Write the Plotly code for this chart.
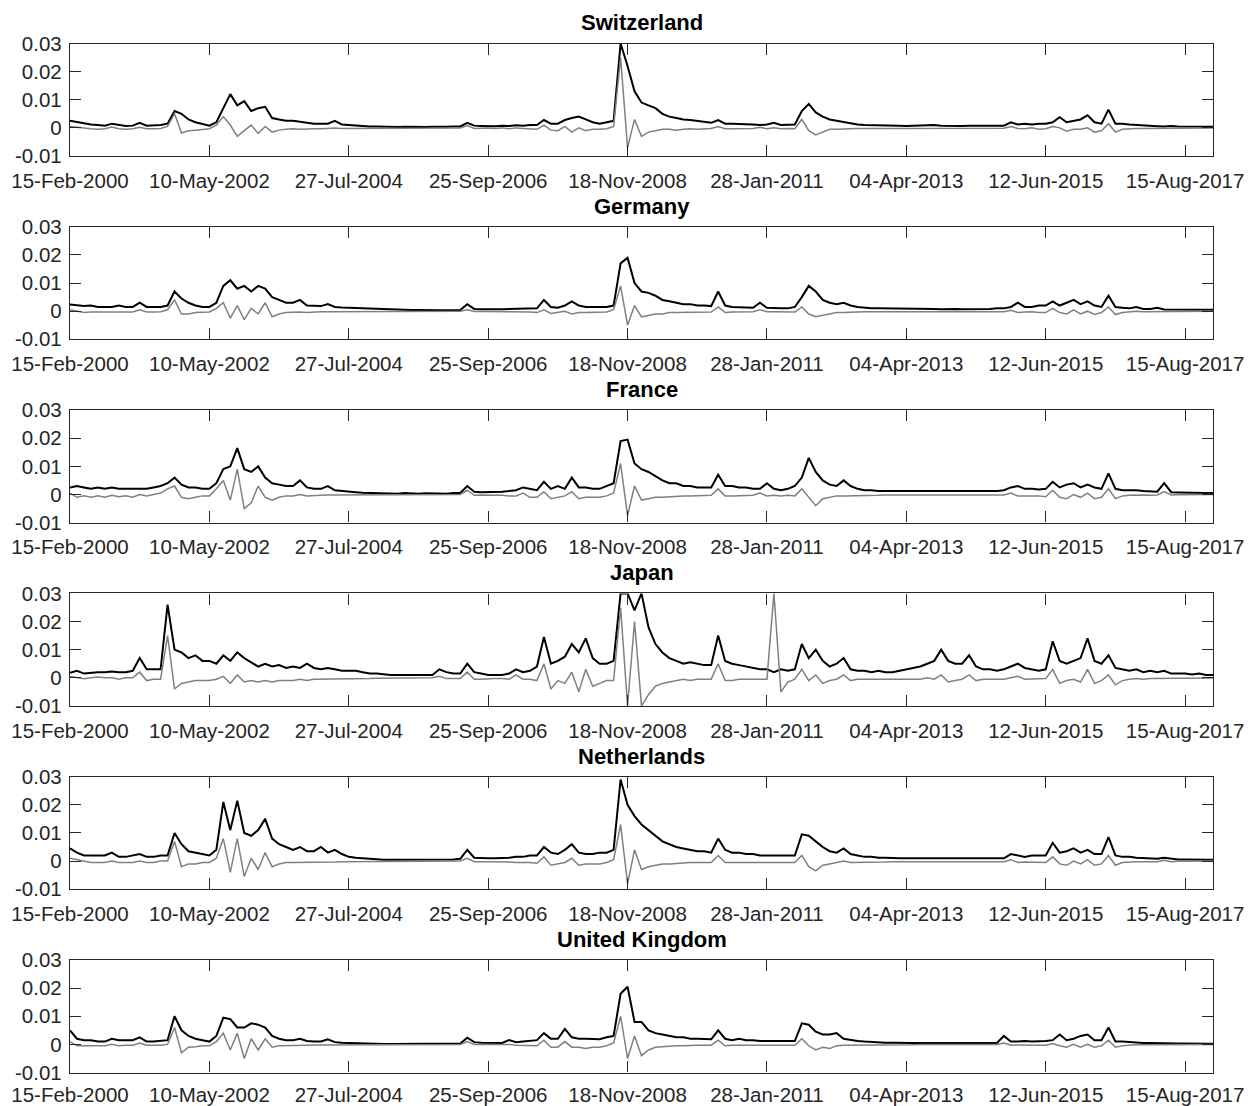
import plotly.graph_objects as go

# ---------------- data (values in units of 0.001) ----------------
tick_labels = ["15-Feb-2000", "10-May-2002", "27-Jul-2004", "25-Sep-2006", "18-Nov-2008",
               "28-Jan-2011", "04-Apr-2013", "12-Jun-2015", "15-Aug-2017"]
tick_obs = [0, 560, 1120, 1680, 2240, 2800, 3360, 3920, 4480]
obs = list(range(0, 4593, 28))          # observation index of each sample
y_tick_vals = [-0.01, 0, 0.01, 0.02, 0.03]
y_tick_text = ["-0.01", "0", "0.01", "0.02", "0.03"]
countries = ["Switzerland", "Germany", "France", "Japan", "Netherlands", "United Kingdom"]

ch_black = [2.5, 2, 1.5, 1.2, 1, 0.8, 1.5, 1, 0.7, 0.8, 1.8, 0.8, 0.9, 1, 1.5, 6, 5, 3, 2, 1.3,
            0.8, 2, 7, 12, 8, 9.5, 6, 7, 7.5, 3.5, 3, 2.5, 2.5, 2.2, 2, 1.5, 1.5, 1.5, 2.5, 1.2,
            1, 0.8, 0.6, 0.5, 0.5, 0.4, 0.4, 0.3, 0.4, 0.3, 0.3, 0.3, 0.4, 0.3, 0.4, 0.5, 0.5, 1.8, 0.8, 0.7,
            0.6, 0.6, 0.8, 0.7, 0.9, 0.8, 1, 1, 2.8, 1.5, 1.5, 2.8, 3.5, 4, 3, 2, 1.5, 2, 2.5, 30,
            22, 13, 9, 8, 7, 5, 4, 3.5, 3, 2.8, 2.5, 2, 1.8, 2.8, 1.5, 1.5, 1.5, 1.3, 1.2, 1,
            1.2, 1.8, 1, 1, 1.2, 6, 8.5, 5.5, 4, 3, 2.5, 2, 1.5, 1.2, 1, 1, 0.8, 1, 0.8, 0.8,
            0.7, 0.8, 0.7, 0.8, 1, 0.8, 0.7, 0.8, 0.7, 0.8, 0.8, 0.8, 0.9, 0.7, 0.8, 2, 1.2, 1.5, 1.2, 1.5,
            1.5, 2, 3.8, 2, 2.5, 3, 4.5, 2, 1.5, 6.5, 1.5, 1.5, 1.2, 1, 0.8, 0.6, 0.6, 0.5, 0.7, 0.5,
            0.5, 0.6, 0.5, 0.4, 0.4]
ch_grey = [0.5, 0.2, -0.2, -0.3, -0.5, -0.3, 0.3, -0.3, -0.5, -0.3, 0.2, -0.3, -0.3, -0.2, 0.5, 5, -1.8, -1, -0.8, -0.5,
           -0.3, 1, 4, 1, -3, -1, 1, -2, 0.5, -1.5, -0.8, -0.5, -0.3, -0.5, -0.3, -0.3, -0.3, -0.2, 0, -0.2,
           -0.2, -0.2, -0.1, -0.1, 0, 0, 0, 0, 0, 0, 0, 0, 0, 0, 0, 0, 0, 0.8, -0.2, -0.1,
           0, -0.2, 0, -0.3, 0, -0.2, -0.3, -0.5, 1, -0.8, -1, 0.5, -1.5, 0, -1, -0.5, -0.5, -0.3, 0.5, 25,
           -7, 3, -3, -1.5, -1, -0.5, -0.5, -0.8, -0.5, -0.3, -0.5, -0.3, -0.2, 0.5, -0.3, -0.3, -0.2, -0.3, -0.2, 0.2,
           -0.3, 0, -0.3, -0.2, -0.3, 3, -1, -2.5, -1.5, -0.5, -0.5, -0.3, -0.3, -0.2, -0.3, -0.2, -0.2, -0.2, -0.1, -0.2,
           -0.2, -0.1, -0.2, -0.1, 0, -0.2, -0.1, -0.2, -0.1, -0.1, -0.1, -0.2, 0, -0.2, -0.1, 0.5, -0.2, -0.3, 0, -0.5,
           -0.3, 0.5, 0, -1.2, -0.5, -0.5, 0, -1.5, -1, 1.5, -1.5, -0.5, -0.3, -0.2, -0.2, -0.2, -0.1, -0.1, -0.1, -0.1,
           -0.1, 0, -0.1, -0.1, 0]

de_black = [2.4, 2, 1.8, 2, 1.5, 1.5, 1.5, 2, 1.5, 1.5, 3, 1.5, 1.5, 1.5, 2, 7, 4.5, 3, 2, 1.5,
            1.5, 3, 9, 11, 8, 9, 7, 9, 8, 5, 4, 3, 3, 4, 2, 2, 1.8, 2.5, 1.5, 1.3,
            1.2, 1.1, 1, 0.8, 0.7, 0.6, 0.5, 0.5, 0.4, 0.4, 0.4, 0.3, 0.3, 0.3, 0.3, 0.4, 0.4, 2.5, 0.8, 0.7,
            0.6, 0.7, 0.7, 0.8, 0.8, 0.8, 1, 1, 4, 1.5, 1.2, 2, 3.5, 2, 1.5, 1.5, 1.5, 1.5, 2, 17,
            19, 10, 7, 6.5, 5.5, 4, 3.5, 3, 2.5, 2.5, 2, 2, 1.8, 7, 2, 1.5, 1.5, 1.3, 1.2, 3,
            1.2, 1, 1, 1, 1.5, 5, 9, 7, 4, 3, 2.5, 3, 2, 1.5, 1.2, 1, 1, 1, 0.8, 0.8,
            0.8, 1, 0.8, 0.8, 0.8, 0.7, 0.8, 0.8, 0.7, 0.7, 0.8, 0.8, 0.8, 1, 1, 1.5, 3, 1.5, 1.5, 2,
            2, 3.5, 2, 3, 4, 2.5, 3.5, 2, 1.5, 5.5, 1.5, 1.2, 1, 1.5, 0.8, 0.8, 1.2, 0.6, 0.6, 0.5,
            0.5, 0.5, 0.5, 0.5, 0.5]
de_grey = [0.5, 0, -0.5, -0.3, -0.3, -0.5, -0.3, -0.3, -0.3, -0.3, 0.5, -0.3, -0.3, -0.2, 0.5, 4, -1, -1, -0.5, -0.5,
           -0.3, 1, 3, -2.5, 2, -3, 1, -1, 3, -2, -1, -0.5, -0.3, -0.3, -0.5, -0.3, -0.2, -0.2, -0.2, -0.1,
           -0.1, -0.1, 0, 0, 0, 0, 0, 0, 0, 0, 0, 0, 0, 0, 0, 0, 0, 0.5, -0.1, -0.1,
           -0.1, -0.1, -0.2, -0.2, -0.2, -0.3, -0.3, -0.5, 0.5, -0.8, -0.5, 0, -1, -0.5, -0.5, -0.5, -0.5, -0.3, 0.5, 9,
           -5, 2, -2, -1.5, -1, -1, -0.5, -0.5, -0.5, -0.3, -0.3, -0.3, -0.3, 1.5, -0.5, -0.3, -0.3, -0.2, -0.2, 0.5,
           -0.2, -0.2, -0.3, -0.2, -0.3, 1.5, -1, -2, -1.5, -0.8, -0.5, -0.5, -0.3, -0.3, -0.2, -0.2, -0.2, -0.2, -0.1, -0.1,
           -0.1, 0, -0.1, -0.1, -0.1, -0.1, -0.1, -0.1, -0.1, -0.1, 0, 0, 0, 0, -0.2, 0.3, -0.5, -0.3, -0.2, -0.5,
           -0.5, 1, -0.5, -1, 0.5, -1, 0, -1.2, -0.5, 1.5, -1.2, -0.5, -0.3, 0, -0.2, -0.2, -0.1, -0.1, -0.1, -0.1,
           -0.1, -0.1, 0, -0.1, 0]

fr_black = [2.5, 3, 2.5, 2, 2.5, 2, 2.5, 2, 2, 2, 2, 2, 2.5, 3, 4, 6, 3.5, 2.5, 2.5, 2,
            2, 4, 9, 10, 16.5, 9, 8, 10, 6, 4, 3.5, 3, 3, 5, 2.5, 2, 2, 3, 1.5, 1.2,
            1, 0.8, 0.6, 0.5, 0.4, 0.4, 0.4, 0.3, 0.5, 0.3, 0.3, 0.4, 0.3, 0.4, 0.3, 0.5, 0.5, 3, 1, 0.8,
            0.8, 0.8, 1, 1.2, 1.5, 2.5, 2, 1.5, 4.5, 2, 3, 2, 6, 2.5, 2.5, 2, 2, 3, 4, 19,
            19.5, 11, 9, 8, 6.5, 5, 4, 4, 3, 3, 2.5, 2.5, 2.5, 7, 3, 3, 2.5, 2.5, 2, 2,
            4, 2, 1.5, 2, 3, 6, 13, 8, 5, 3.5, 3, 5, 3, 2, 1.5, 1.5, 1.2, 1.2, 1.2, 1.2,
            1, 1.2, 1, 1, 1, 1, 1, 1, 1, 1, 1, 1.2, 1, 1.2, 1.5, 2.5, 3, 2, 2, 1.8,
            2, 4.5, 2.5, 3.5, 4, 2.5, 3.5, 2.5, 2, 7.5, 2, 1.5, 1.5, 1.5, 1.2, 1, 1, 4, 0.8, 0.7,
            0.6, 0.5, 0.5, 0.5, 0.5]
fr_grey = [0.5, -1, -0.5, -1, -0.5, -1, -0.3, -0.8, -0.5, -1, 0, -0.5, 0, 0.5, 2, 3, -1, -1.5, -1, -0.5,
           -0.5, 2, 5, -2, 9, -5, -3, 3, -1, -2, -1, -0.5, -0.5, 0, -0.5, -0.3, -0.3, -0.2, -0.2, -0.1,
           -0.1, 0, 0, 0, 0, 0, 0, 0, 0, 0, 0, 0, 0, 0, 0, 0, 0, 1.5, -0.3, -0.2,
           -0.2, -0.3, -0.3, -0.5, -0.5, 0.5, -1, -1, 1, -1.5, -1, -0.5, 1, -1.5, -1, -1, -1, -0.5, 0.5, 11,
           -7.5, 3, -2, -1.5, -1, -1, -0.8, -0.5, -0.5, -0.5, -0.5, -0.5, -0.3, 2, -0.5, -0.5, -0.5, -0.5, -0.3, 0.5,
           -0.5, -0.3, -0.5, -0.3, -0.5, 2, -1, -4, -1.5, -1, -0.5, -0.5, -0.5, -0.3, -0.3, -0.3, -0.3, -0.2, -0.2, -0.2,
           -0.2, -0.2, -0.2, -0.2, -0.2, -0.2, -0.2, -0.2, -0.2, -0.2, -0.1, -0.2, -0.2, -0.2, -0.2, 0.5, -0.5, -0.5, -0.5, -0.5,
           -0.8, 1.5, -1, -1.5, 0, -1, 0.5, -1.5, -1, 2, -1.5, -0.5, -0.3, -0.2, -0.2, -0.3, -0.2, 1, -0.2, -0.1,
           -0.1, -0.1, -0.1, 0, 0]

jp_black = [1.8, 2.5, 1.5, 1.8, 2, 2, 2.2, 2, 2, 2.5, 7, 3, 3, 3, 26, 10, 9, 7, 8, 6,
            6, 5, 8, 6, 9, 7, 5.5, 4, 5, 4, 4.5, 3.5, 4, 3.5, 5, 3.5, 3, 3.5, 3, 2.5,
            2.5, 2.5, 2, 1.5, 1.5, 1.2, 1, 1, 1, 0.8, 0.8, 1, 1, 3, 2, 1.5, 1.5, 5, 2, 1.5,
            1, 1, 1, 1.5, 3, 2, 2.5, 4, 14.5, 5, 6, 7.5, 12, 9, 14, 7, 5, 5, 6, 30,
            30, 24, 30, 18, 12, 9, 7, 6, 5, 5.5, 5, 4.5, 4.5, 15, 6, 5, 4.5, 4, 3.5, 3,
            3, 2, 3, 2.5, 3, 12, 7, 10, 6, 4, 5, 7, 3, 2.5, 2.5, 2, 2.5, 2, 2, 2.5,
            3, 3.5, 4, 5, 6, 10, 6, 5, 5, 8, 4, 3, 3, 2.5, 3, 4, 5, 3.5, 3, 2.5,
            3, 13, 6, 5, 6, 7, 14, 6, 5, 8, 3.5, 3, 2.5, 3, 2, 2.5, 2, 2.5, 1.5, 1.5,
            1.5, 1.2, 1.5, 1, 1]
jp_grey = [0.5, 0, -0.3, 0, 0.3, 0, 0, -0.5, 0, 0, 2, -1, -0.5, -0.5, 15, -4, -2, -1.5, -1, -1,
           -1, -0.5, 0.5, -2, 1, -1.5, -1, -1.5, -1, -1.5, -1, -1, -1, -0.5, -1, -0.5, -0.5, -0.5, -0.5, -0.5,
           -0.5, -0.5, -0.3, -0.3, -0.2, -0.2, -0.2, -0.1, -0.1, -0.1, -0.1, 0, 0, 0.5, -0.3, -0.3, -0.3, 2, -0.5, -0.5,
           -0.3, -0.3, -0.3, -0.5, 1, -0.5, -0.5, -1, 5, -4, -1, -2, 2, -5, 3, -3, -2, -1, -1, 25,
           -10, 20, -10, -6, -3, -2, -1.5, -1, -0.5, -1, -0.5, -0.5, -0.5, 5, -1, -1, -0.5, -0.5, -0.5, -0.5,
           -0.5, 30, -5, -1.5, -0.5, 3, -1, 1, -2, -1, -0.5, 1, -1, -0.5, -0.5, -0.5, -0.3, -0.3, -0.3, -0.3,
           -0.3, -0.3, -0.5, 0, -0.5, 1, -1.5, -1, -0.5, 1, -1, -0.5, -0.5, -0.3, -0.5, 0, 0.5, -0.5, -0.5, -0.3,
           -0.3, 3, -2, -1, -0.5, -1.5, 3, -2, -1, 1, -2.5, -1, -0.5, -0.3, -0.5, -0.3, -0.3, -0.2, -0.3, -0.2,
           -0.2, -0.2, -0.1, -0.1, -0.1]

nl_black = [4.5, 3, 2, 2, 2, 2, 3, 1.5, 1.5, 2, 2.5, 1.5, 1.5, 2, 2, 10, 6, 3.5, 3, 2.5,
            2, 4, 21, 11, 21.5, 10, 9, 11, 15, 8, 6, 5, 4, 5, 3.5, 3.5, 5, 3, 4, 2.5,
            1.5, 1.2, 1, 0.8, 0.6, 0.5, 0.5, 0.5, 0.4, 0.4, 0.4, 0.4, 0.4, 0.5, 0.5, 0.6, 0.8, 4, 1.2, 1,
            1, 1, 1, 1.2, 1.5, 1.5, 2, 2, 5, 3, 2.5, 4, 6, 3, 2.5, 2.5, 3, 3, 4, 29,
            20, 16, 13, 11, 9, 7, 6, 5, 4.5, 4, 3.5, 3.5, 3, 8, 4, 3, 3, 2.5, 2.5, 2,
            2, 2, 2, 1.8, 2, 9.5, 9, 7, 5, 3.5, 3, 4.5, 2.5, 2, 1.5, 1.5, 1.2, 1.2, 1, 1,
            1, 1, 1, 1, 1, 0.8, 1, 0.8, 1, 0.8, 1, 1, 0.8, 1, 1, 2.5, 2, 1.5, 2, 2,
            2, 6.5, 3, 3.5, 4.5, 3, 4, 2.5, 2.5, 8.5, 2, 1.5, 1.5, 1.2, 1, 1, 0.8, 1.2, 0.8, 0.6,
            0.6, 0.5, 0.5, 0.5, 0.5]
nl_grey = [1, 0.5, 0, -0.5, -0.5, -0.5, 0, -0.5, -0.5, -0.5, 0, -0.5, -0.5, 0, 0, 7, -2, -1, -1, -0.5,
           -0.5, 1, 8, -4, 8, -5.5, 1, -3, 3, -2, -1, -0.5, -0.5, -0.5, -0.5, -0.3, -0.3, -0.3, -0.3, -0.2,
           -0.2, -0.1, -0.1, 0, 0, 0, 0, 0, 0, 0, 0, 0, 0, 0, 0, 0, 0, 1, -0.2, -0.2,
           -0.2, -0.2, -0.2, -0.3, -0.5, -0.5, -0.5, -0.8, 1.5, -1.5, -1, -0.5, 1, -1.5, -1, -1, -1, -0.5, 0.5, 13,
           -8, 4, -3, -2, -1.5, -1, -1, -0.8, -0.5, -0.5, -0.5, -0.5, -0.5, 2, -0.5, -0.5, -0.5, -0.5, -0.3, -0.3,
           -0.3, -0.3, -0.3, -0.3, -0.5, 2, -2, -3.5, -1.5, -1, -0.5, 0, -0.5, -0.5, -0.3, -0.3, -0.3, -0.3, -0.2, -0.2,
           -0.2, -0.2, -0.2, -0.2, -0.2, -0.2, -0.2, -0.2, -0.2, -0.2, -0.1, -0.2, -0.2, -0.2, -0.2, 0.5, -0.5, -0.3, -0.3, -0.5,
           -0.5, 1.5, -1, -1.5, 0, -1, 0.5, -1.5, -1, 2, -1.5, -0.5, -0.3, -0.2, -0.2, -0.2, -0.2, 0.3, -0.2, -0.1,
           -0.1, -0.1, 0, 0, 0]

uk_black = [5, 2, 1.5, 1.5, 1, 1, 2, 1.5, 1.5, 1.5, 2.5, 1, 1, 1.2, 1.5, 10, 5, 3, 2, 1.5,
            1, 3, 9.5, 9, 6, 6, 7.5, 7, 6, 3, 2, 1.5, 1.5, 2, 1.2, 1, 1, 1.8, 0.8, 0.6,
            0.5, 0.3, 0.2, 0.2, 0.2, 0.1, 0.1, 0.1, 0.1, 0.1, 0.1, 0.1, 0.1, 0.1, 0.1, 0.1, 0.3, 2.4, 0.8, 0.6,
            0.5, 0.5, 0.5, 1.5, 0.8, 1, 1.2, 1.5, 4, 2, 2, 5.5, 2.5, 2, 2, 2, 1.8, 2.5, 3, 18,
            20.5, 8, 8, 5, 4, 3.5, 3, 2.5, 2.5, 2, 2, 1.8, 1.8, 5, 2, 1.5, 2, 1.5, 1.5, 1.2,
            1.2, 1, 1, 1, 1.2, 7.5, 7, 4.5, 3.5, 3.5, 4, 2, 1.5, 1.2, 1, 0.8, 0.7, 0.6, 0.6, 0.5,
            0.5, 0.5, 0.5, 0.5, 0.6, 0.5, 0.5, 0.6, 0.5, 0.5, 0.5, 0.6, 0.5, 0.5, 3, 1, 1, 1.2, 1, 1,
            1.2, 1.5, 3.5, 1.5, 2, 3, 3.5, 1.5, 1.5, 6, 1, 1, 0.8, 0.6, 0.5, 0.5, 0.4, 0.4, 0.3, 0.3,
            0.3, 0.3, 0.2, 0.2, 0.2]
uk_grey = [1, -0.5, -0.5, -0.5, -0.3, -0.5, 0, -0.5, -0.3, -0.3, 0.5, -0.3, -0.3, -0.3, 0, 6, -3, -1, -0.8, -0.5,
           -0.5, 1, 4, -2, 4, -5, 2, -2, 2, -1, -0.5, -0.5, -0.3, -0.3, -0.3, -0.2, -0.2, -0.2, 0, -0.1,
           -0.1, 0, 0, 0, 0, 0, 0, 0, 0, 0, 0, 0, 0, 0, 0, 0, 0, 1, 0, 0,
           0, 0, 0, 0, -0.3, -0.3, -0.3, -0.5, 1.5, -1, -1, 1, -1, -1, -1.5, -1, -1, -0.5, 0.5, 10,
           -5, 3, -4, -2, -1, -0.8, -0.5, -0.5, -0.5, -0.3, -0.3, -0.3, -0.3, 1.5, -0.5, -0.3, -0.3, -0.2, -0.2, -0.2,
           -0.2, -0.2, -0.2, -0.2, -0.3, 2, -0.5, -2, -1, -1.5, -0.5, -0.3, -0.3, -0.2, -0.2, -0.2, -0.1, -0.1, -0.1, -0.1,
           -0.1, -0.1, 0, 0, 0, 0, 0, 0, 0, 0, 0, 0, 0, 0, 0.5, -0.3, -0.2, -0.2, -0.2, -0.3,
           -0.3, 0.3, -0.5, -1, 0, -1, 0, -1, -0.5, 1.5, -1, -0.5, -0.2, -0.1, -0.1, -0.1, -0.1, 0, 0, 0,
           0, 0, 0, 0, 0]

black_series = [ch_black, de_black, fr_black, jp_black, nl_black, uk_black]
grey_series = [ch_grey, de_grey, fr_grey, jp_grey, nl_grey, uk_grey]

# ---------------- figure ----------------
W, H = 1249, 1106
LEFT, RIGHT = 70, 1213
TOP0, STEP, PH = 43.5, 183.3, 112.5
AX_COLOR = "#262626"
FONT = "Liberation Sans, Arial, Helvetica, sans-serif"

fig = go.Figure()
layout = dict(
    width=W, height=H,
    margin=dict(l=0, r=0, t=0, b=0, autoexpand=False),
    paper_bgcolor="white", plot_bgcolor="white",
    showlegend=False,
    font=dict(family=FONT, size=20, color=AX_COLOR),
)
annotations = []

for i, name in enumerate(countries):
    k = i + 1
    xs = "" if k == 1 else str(k)
    blk = black_series[i]
    gry = grey_series[i]
    fig.add_trace(go.Scatter(x=obs[:len(blk)], y=[v * 1e-3 for v in blk],
                             xaxis="x" + xs, yaxis="y" + xs, mode="lines",
                             line=dict(color="#000000", width=2), hoverinfo="skip"))
    fig.add_trace(go.Scatter(x=obs[:len(gry)], y=[v * 1e-3 for v in gry],
                             xaxis="x" + xs, yaxis="y" + xs, mode="lines",
                             line=dict(color="#808080", width=1.5), hoverinfo="skip"))
    top = TOP0 + STEP * i
    bot = top + PH
    layout["xaxis" + xs] = dict(
        domain=[LEFT / W, RIGHT / W], anchor="y" + xs, range=[0, 4592],
        tickmode="array", tickvals=tick_obs, ticktext=tick_labels,
        ticks="inside", ticklen=11, tickwidth=1.2, tickcolor=AX_COLOR,
        showline=True, linecolor=AX_COLOR, linewidth=1.3, mirror="ticks",
        showgrid=False, zeroline=False,
        ticklabelstandoff=(4 if k == len(countries) else 6), automargin=False,
        tickfont=dict(family=FONT, size=20.5, color=AX_COLOR),
    )
    layout["yaxis" + xs] = dict(
        domain=[1 - bot / H, 1 - top / H], anchor="x" + xs, range=[-0.01, 0.03],
        tickmode="array", tickvals=y_tick_vals, ticktext=y_tick_text,
        ticks="inside", ticklen=11, tickwidth=1.2, tickcolor=AX_COLOR,
        showline=True, linecolor=AX_COLOR, linewidth=1.3, mirror="ticks",
        showgrid=False, zeroline=False, ticklabelstandoff=3, automargin=False,
        tickfont=dict(family=FONT, size=20.5, color=AX_COLOR),
    )
    annotations.append(dict(
        text=name, xref="paper", yref="paper",
        x=(LEFT + RIGHT) / 2 / W, y=1 - top / H, xanchor="center", yanchor="bottom",
        yshift=6, showarrow=False,
        font=dict(family=FONT, size=22, color="#000000", weight="bold"),
    ))

layout["annotations"] = annotations
fig.update_layout(**layout)
fig.write_html("out.html", config={"displayModeBar": False},
               post_script="document.body.style.margin='0px';document.body.style.overflow='hidden';")
